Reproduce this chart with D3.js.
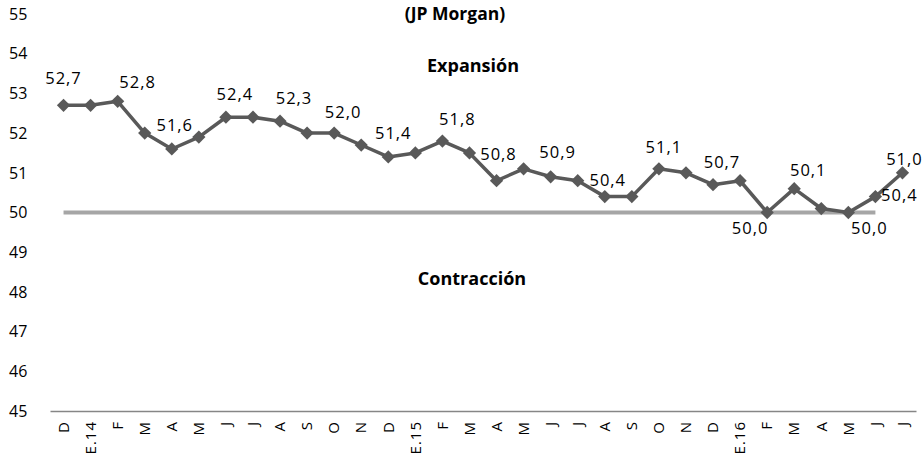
<!DOCTYPE html>
<html>
<head>
<meta charset="utf-8">
<script src="https://cdn.jsdelivr.net/npm/d3@7"></script>
<style>
  body { margin: 0; background: #fff; }
  text { font-family: "Open Sans", sans-serif; fill: #000; }
</style>
</head>
<body>
<div class="chart"></div>
<script>
var width = 923;
var height = 456;

// meses (dic 2013 - jul 2016)
var months = ["D","E.14","F","M","A","M","J","J","A","S","O","N",
              "D","E.15","F","M","A","M","J","J","A","S","O","N",
              "D","E.16","F","M","A","M","J","J"];
// PMI manufacturero global (JP Morgan)
var pmi = [52.7,52.7,52.8,52.0,51.6,51.9,52.4,52.4,52.3,52.0,52.0,51.7,
           51.4,51.5,51.8,51.5,50.8,51.1,50.9,50.8,50.4,50.4,51.1,51.0,
           50.7,50.8,50.0,50.6,50.1,50.0,50.4,51.0];
// linea de referencia 50 (hasta J 2016, penultimo mes)
var threshold = [50,50,50,50,50,50,50,50,50,50,50,50,50,50,50,50,
                 50,50,50,50,50,50,50,50,50,50,50,50,50,50,50];
var yTicks = [45,46,47,48,49,50,51,52,53,54,55];
var labeled = [0,2,4,6,8,10,12,14,16,18,20,22,24,26,28,29,30,31];

// label placement (dx, dy from the point), set by hand like the original
var labelPos = {
  0:[0,-21], 2:[20,-13], 4:[3,-18], 6:[9,-17], 8:[14,-17], 10:[9,-15],
  12:[5,-18], 14:[15,-16], 16:[2,-21], 18:[7,-19], 20:[3,-11], 22:[5,-16],
  24:[9,-17], 26:[-17,21], 28:[-13,-33], 29:[21,21], 30:[24,4], 31:[2,-8]
};

var svg = d3.select(".chart").append("svg")
    .attr("width", width)
    .attr("height", height);

var x = d3.scaleBand()
    .domain(d3.range(months.length))
    .range([50, 916]);

var y = d3.scaleLinear()
    .domain([45, 55])
    .range([411, 14]);

function cx(i) { return x(i) + x.bandwidth() / 2; }

// y labels (no axis line)
svg.append("g")
  .selectAll("text")
    .data(yTicks)
  .enter().append("text")
    .attr("x", 9)
    .attr("y", function(d){ return y(d); })
    .attr("dy", "0.36em")
    .style("font-size", "16px")
    .text(function(d){ return d; });

// x axis
var xAxis = d3.axisBottom(x)
    .tickSize(0)
    .tickPadding(0)
    .tickFormat(function(i){ return months[i]; });

var gx = svg.append("g")
    .attr("transform", "translate(0," + y(45) + ")")
    .call(xAxis);
gx.select(".domain").attr("stroke", "#868686").attr("stroke-width", 1.5);
gx.selectAll("text")
    .style("font-size", "15px")
    .style("letter-spacing", "1px")
    .style("font-family", "\"Open Sans\", sans-serif")
    .attr("fill", "#000")
    .attr("transform", "rotate(-90)")
    .attr("text-anchor", "end")
    .attr("x", -10)
    .attr("y", 0)
    .attr("dy", "0.35em");

// reference line at 50
var line = d3.line()
    .x(function(d, i){ return cx(i); })
    .y(function(d){ return y(d); });

svg.append("path")
    .datum(threshold)
    .attr("d", line)
    .attr("fill", "none")
    .attr("stroke", "#a6a6a6")
    .attr("stroke-width", 4);

// PMI series
svg.append("path")
    .datum(pmi)
    .attr("d", line)
    .attr("fill", "none")
    .attr("stroke", "#595959")
    .attr("stroke-width", 3.5)
    .attr("stroke-linejoin", "round");

var diamond = d3.symbol().type(d3.symbolSquare).size(88);
svg.append("g")
  .selectAll("path")
    .data(pmi)
  .enter().append("path")
    .attr("d", diamond)
    .attr("transform", function(d, i){ return "translate(" + cx(i) + "," + y(d) + ") rotate(45)"; })
    .attr("fill", "#595959");

// data labels
svg.append("g")
  .selectAll("text")
    .data(labeled)
  .enter().append("text")
    .attr("x", function(i){ return cx(i) + labelPos[i][0]; })
    .attr("y", function(i){ return y(pmi[i]) + labelPos[i][1]; })
    .attr("text-anchor", "middle")
    .style("font-size", "16.5px")
    .style("letter-spacing", "1px")
    .text(function(i){ return pmi[i].toFixed(1).replace(".", ","); });

// titles
svg.append("text")
    .attr("x", 455).attr("y", 20)
    .attr("text-anchor", "middle")
    .style("font-size", "17.5px").style("font-weight", "bold")
    .text("(JP Morgan)");

svg.append("text")
    .attr("x", 473).attr("y", 72)
    .attr("text-anchor", "middle")
    .style("font-size", "18px").style("font-weight", "bold")
    .text("Expansión");

svg.append("text")
    .attr("x", 472).attr("y", 285)
    .attr("text-anchor", "middle")
    .style("font-size", "18px").style("font-weight", "bold")
    .text("Contracción");
</script>
</body>
</html>
